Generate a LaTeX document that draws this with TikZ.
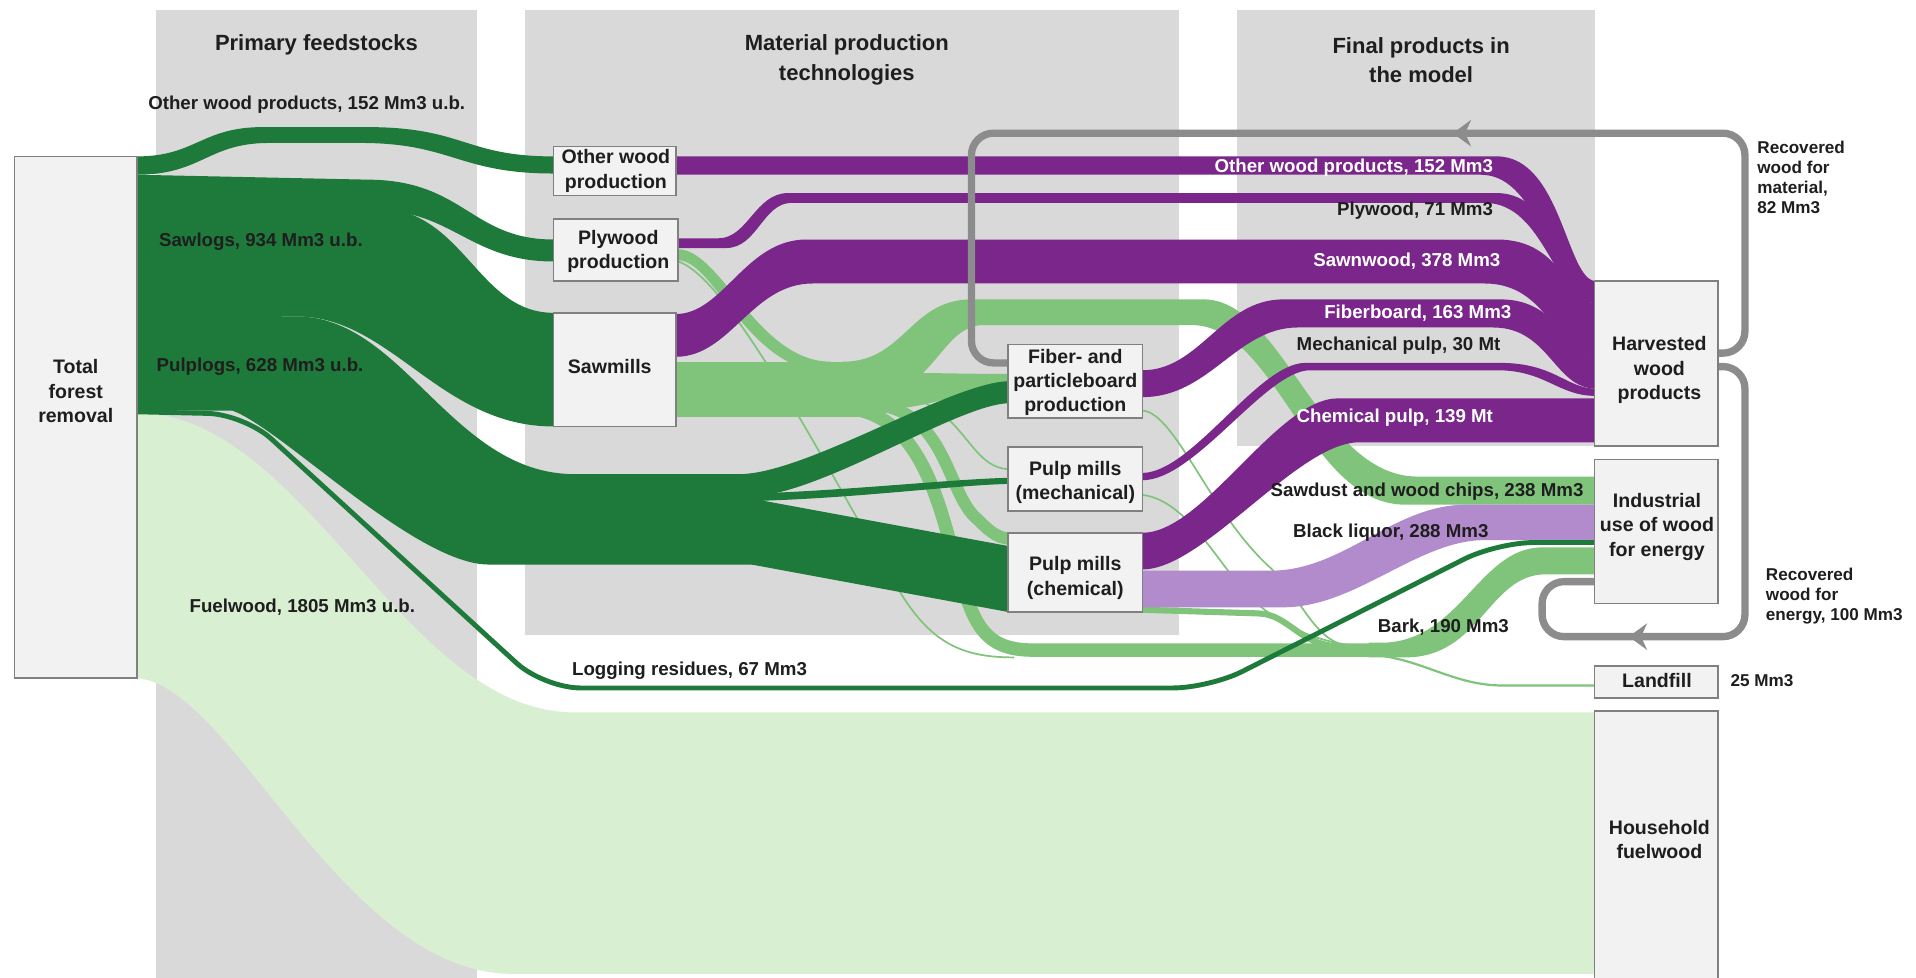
\documentclass[tikz,border=0pt]{standalone}
\usepackage{fontspec}
\setmainfont{Liberation Sans}
\usetikzlibrary{arrows.meta}
\definecolor{bgcol}{RGB}{217,217,217}
\definecolor{boxfill}{RGB}{242,242,242}
\definecolor{boxline}{RGB}{128,128,128}
\definecolor{dkgreen}{RGB}{30,122,58}
\definecolor{ltgreen}{RGB}{128,196,124}
\definecolor{fwgreen}{RGB}{216,239,210}
\definecolor{purp}{RGB}{122,38,138}
\definecolor{ltpurp}{RGB}{178,139,204}
\definecolor{loopgray}{RGB}{140,140,140}
\definecolor{txt}{RGB}{30,30,30}
\begin{document}
\begin{tikzpicture}[x=1pt,y=-1pt,
  box/.style={draw=boxline, fill=boxfill, line width=1.3pt, inner sep=0pt},
  boxtxt/.style={inner sep=0pt, align=center, font=\fontsize{16}{20}\selectfont\bfseries, text=txt},
  hdr/.style={inner sep=0pt, align=center, font=\fontsize{18}{24}\selectfont\bfseries, text=txt},
  lbl/.style={inner sep=0pt, font=\fontsize{15.3}{19}\selectfont\bfseries, text=txt},
  wlbl/.style={lbl, text=white},
  sml/.style={inner sep=0pt, align=left, font=\fontsize{14}{16.5}\selectfont\bfseries, text=txt},
  recloop/.style={draw=loopgray, line width=6pt, rounded corners=18pt},
  lgthin/.style={draw=ltgreen, line width=1.4pt},
]
\useasboundingbox (0,0) rectangle (1568,800);
\clip (0,0) rectangle (1568,800);
\fill[white] (0,0) rectangle (1568,800);
% background columns
\fill[bgcol] (128,8) rectangle (390,800);
\fill[bgcol] (430,8) rectangle (965,520);
\fill[bgcol] (1012,8) rectangle (1305,365);
% fuelwood
\fill[fwgreen] (112,338) .. controls (250,338) and (330,583) .. (470,583) -- (1306,583) -- (1306,797) -- (420,797) .. controls (280,797) and (190,560) .. (112,555) -- cycle;
% light green residue flows
\fill[ltgreen] (553,296) rectangle (725,341);
\fill[ltgreen] (555,204) .. controls (590,204) and (620,296) .. (680,296) -- (680,305) .. controls (612,305) and (585,213) .. (555,213) -- cycle;
\draw[lgthin] (555,214) .. controls (600,228) and (690,410) .. (740,490) .. controls (765,528) and (790,538) .. (830,538);
\fill[ltgreen] (690,296) .. controls (740,296) and (745,245) .. (795,245) -- (985,245) .. controls (1050,245) and (1080,390) .. (1160,390) -- (1306,390) -- (1306,413) -- (1150,413) .. controls (1070,413) and (1045,266) .. (975,266) -- (805,266) .. controls (770,266) and (765,322) .. (715,322) -- cycle;
\fill[ltgreen] (715,305) .. controls (770,305) and (780,306) .. (826,306) -- (826,318) .. controls (780,318) and (770,335) .. (715,335) -- cycle;
\draw[lgthin] (725,322) .. controls (790,326) and (790,383) .. (826,384);
\draw[ltgreen, line width=10pt] (715,331) .. controls (775,336) and (775,405) .. (800,425) .. controls (808,433) and (815,440) .. (826,441);
\draw[ltgreen, line width=11pt] (705,336) .. controls (760,350) and (772,430) .. (785,470) .. controls (797,510) and (805,532) .. (845,532) -- (1140,532);
\fill[ltgreen] (1120,526) -- (1130,526) .. controls (1195,526) and (1210,448) .. (1262,448) -- (1306,448) -- (1306,470) -- (1265,470) .. controls (1218,470) and (1212,538) .. (1150,538) -- (1120,538) -- cycle;
\draw[ltgreen, line width=5pt] (935,499) -- (1030,502) .. controls (1055,503) and (1062,527) .. (1095,529);
\draw[lgthin] (935,336) .. controls (962,338) and (990,420) .. (1040,465) .. controls (1065,490) and (1075,522) .. (1100,528);
\draw[lgthin] (935,405) .. controls (975,410) and (1000,470) .. (1030,495) .. controls (1050,512) and (1075,524) .. (1105,528);
\draw[ltgreen, line width=1.8pt] (1125,536) .. controls (1165,540) and (1190,561) .. (1230,561) -- (1306,561);
% dark green feedstock flows
\fill[dkgreen] (112,128) .. controls (160,128) and (165,104) .. (215,104) -- (300,104) .. controls (380,104) and (380,128) .. (453,128) -- (453,142) .. controls (375,142) and (370,117) .. (295,117) -- (220,117) .. controls (170,117) and (165,143) .. (112,143) -- cycle;
\fill[dkgreen] (112,143) -- (300,147) .. controls (380,147) and (385,196) .. (453,196) -- (453,214) .. controls (385,214) and (370,172) .. (307,172) -- (112,172) -- cycle;
\fill[dkgreen] (112,168) -- (307,170) .. controls (380,170) and (390,256) .. (453,256) -- (453,349) .. controls (360,349) and (320,259) .. (243,259) -- (112,259) -- cycle;
\fill[dkgreen] (112,257) -- (243,259) .. controls (330,259) and (370,388) .. (470,388) -- (625,388) -- (625,462) -- (400,462) .. controls (340,462) and (230,350) .. (190,336) -- (112,336) -- cycle;
\fill[dkgreen] (605,388) .. controls (660,388) and (780,312) .. (826,312) -- (826,330) .. controls (785,330) and (670,406) .. (615,406) -- cycle;
\fill[dkgreen] (615,404) .. controls (700,401) and (780,392) .. (826,391) -- (826,396) .. controls (780,397) and (700,408) .. (615,410) -- cycle;
\fill[dkgreen] (615,408) -- (826,447) -- (826,501) -- (615,462) -- cycle;
% purple product flows
\fill[purp] (553,128) -- (1225,128) .. controls (1278,128) and (1282,230) .. (1306,230) -- (1306,242) .. controls (1270,242) and (1262,143) .. (1212,143) -- (553,143) -- cycle;
\fill[purp] (555,195) -- (588,195) .. controls (612,195) and (618,158) .. (645,158) -- (1225,158) .. controls (1276,158) and (1282,242) .. (1306,242) -- (1306,248) .. controls (1272,248) and (1265,166) .. (1215,166) -- (648,166) .. controls (624,166) and (620,203) .. (594,203) -- (555,203) -- cycle;
\fill[purp] (553,257) .. controls (592,257) and (610,196) .. (660,196) -- (1225,196) .. controls (1280,196) and (1282,248) .. (1306,248) -- (1306,290) .. controls (1272,290) and (1268,232) .. (1215,232) -- (665,232) .. controls (615,232) and (598,292) .. (553,292) -- cycle;
\fill[purp] (935,303) .. controls (982,303) and (1000,245) .. (1050,245) -- (1228,245) .. controls (1276,245) and (1282,290) .. (1306,290) -- (1306,318) .. controls (1272,318) and (1268,268) .. (1222,268) -- (1062,268) .. controls (1012,268) and (990,325) .. (935,325) -- cycle;
\fill[purp] (935,387) .. controls (975,387) and (1030,297) .. (1068,297) -- (1228,297) .. controls (1272,297) and (1282,318) .. (1306,318) -- (1306,324) .. controls (1275,324) and (1265,303) .. (1225,303) -- (1072,303) .. controls (1036,303) and (978,393) .. (935,393) -- cycle;
\fill[purp] (935,436) .. controls (985,436) and (1045,326) .. (1095,326) -- (1306,326) -- (1306,362) -- (1112,362) .. controls (1062,362) and (985,466) .. (935,466) -- cycle;
\fill[ltpurp] (935,467) -- (1040,467) .. controls (1100,467) and (1140,413) .. (1200,413) -- (1306,413) -- (1306,442) -- (1215,442) .. controls (1160,442) and (1110,497) .. (1050,497) -- (935,497) -- cycle;
% logging residues
\draw[dkgreen, line width=4pt, rounded corners=30pt] (112,337) -- (200,339) -- (445,563) -- (990,563) -- (1225,444) -- (1306,444);
% recovered wood loops
\draw[recloop] (1406,289) -- (1428,289) -- (1428,109) -- (795,109) -- (795,297) -- (826,297);
\draw[recloop] (1406,300) -- (1428,300) -- (1428,521) -- (1262,521) -- (1262,476) -- (1306,476);
\fill[loopgray] (1189,109) -- (1204,98) -- (1199,109) -- (1204,120) -- cycle;
\fill[loopgray] (1333,521) -- (1348,510) -- (1343,521) -- (1348,532) -- cycle;
% boxes
\node[box, minimum width=100pt, minimum height=427pt] (tot) at (62,341.5) {};
\node[box, minimum width=100pt, minimum height=40pt] (owp) at (503,140) {};
\node[box, minimum width=102pt, minimum height=51pt] (plp) at (504,204.5) {};
\node[box, minimum width=100pt, minimum height=93pt] (saw) at (503,302.5) {};
\node[box, minimum width=110pt, minimum height=60pt] (fib) at (880,312) {};
\node[box, minimum width=110pt, minimum height=52pt] (mec) at (880,392) {};
\node[box, minimum width=110pt, minimum height=65pt] (che) at (880,468.5) {};
\node[box, minimum width=101pt, minimum height=135pt] (hwp) at (1355.5,297.5) {};
\node[box, minimum width=101pt, minimum height=118pt] (ind) at (1355.5,435) {};
\node[box, minimum width=101pt, minimum height=26pt] (lan) at (1355.5,558) {};
\node[box, minimum width=101pt, minimum height=224pt] (hou) at (1355.5,694) {};
% box texts
\node[boxtxt] (tott) at (62,320) {Total\\forest\\removal};
\node[boxtxt] (owpt) at (504,140) {Other wood\\production};
\node[boxtxt] (plpt) at (506,206) {Plywood\\production};
\node[boxtxt] (sawt) at (499,300) {Sawmills};
\node[boxtxt] (fibt) at (880,313) {Fiber- and\\particleboard\\production};
\node[boxtxt] (mect) at (880,395) {Pulp mills\\(mechanical)};
\node[boxtxt] (chet) at (880,473) {Pulp mills\\(chemical)};
\node[boxtxt] (hwpt) at (1358,303) {Harvested\\wood\\products};
\node[boxtxt] (indt) at (1356,431) {Industrial\\use of wood\\for energy};
\node[boxtxt] (lant) at (1356,557) {Landfill};
\node[boxtxt] (hout) at (1358,687) {Household\\fuelwood};
% headers
\node[hdr] (h1) at (259,37) {Primary feedstocks};
\node[hdr] (h2) at (693,49) {Material production\\technologies};
\node[hdr] (h3) at (1163,49) {Final products in\\the model};
% flow labels
\node[lbl] (l1) at (251,86) {Other wood products, 152 Mm3 u.b.};
\node[lbl, anchor=west] (l2) at (130,198) {Sawlogs, 934 Mm3 u.b.};
\node[lbl, anchor=west] (l3) at (128,300) {Pulplogs, 628 Mm3 u.b.};
\node[lbl, anchor=west] (l4) at (155,497) {Fuelwood, 1805 Mm3 u.b.};
\node[lbl, anchor=west] (l5) at (468,549) {Logging residues, 67 Mm3};
\node[wlbl, anchor=east] (l6) at (1222,137) {Other wood products, 152 Mm3};
\node[lbl, anchor=east] (l7) at (1222,172) {Plywood, 71 Mm3};
\node[wlbl, anchor=east] (l8) at (1228,214) {Sawnwood, 378 Mm3};
\node[wlbl, anchor=east] (l9) at (1237,256) {Fiberboard, 163 Mm3};
\node[lbl, anchor=east] (l10) at (1228,283) {Mechanical pulp, 30 Mt};
\node[wlbl, anchor=east] (l11) at (1222,342) {Chemical pulp, 139 Mt};
\node[lbl, anchor=east] (l12) at (1296,402) {Sawdust and wood chips, 238 Mm3};
\node[lbl, anchor=west] (l13) at (1058,436) {Black liquor, 288 Mm3};
\node[lbl, anchor=east] (l14) at (1235,513) {Bark, 190 Mm3};
\node[sml, anchor=west] (l15) at (1438,145) {Recovered\\wood for\\material,\\82 Mm3};
\node[sml, anchor=west] (l16) at (1445,488) {Recovered\\wood for\\energy, 100 Mm3};
\node[sml, anchor=west] (l17) at (1416,557) {25 Mm3};
\end{tikzpicture}
\end{document}
